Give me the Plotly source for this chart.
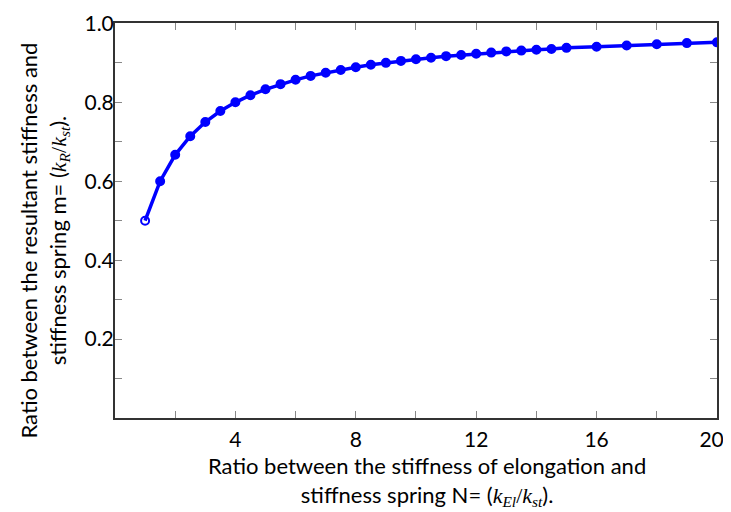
import plotly.graph_objects as go

# stiffness ratio N = kEl/kst
n_ratio = [1, 1.5, 2, 2.5, 3, 3.5, 4, 4.5, 5, 5.5, 6, 6.5, 7, 7.5, 8, 8.5,
           9, 9.5, 10, 10.5, 11, 11.5, 12, 12.5, 13, 13.5, 14, 14.5, 15,
           16, 17, 18, 19, 20]
# resultant ratio m = kR/kst
m_ratio = [0.500, 0.600, 0.667, 0.714, 0.750, 0.778, 0.800, 0.818, 0.833,
           0.846, 0.857, 0.867, 0.875, 0.882, 0.889, 0.895, 0.900, 0.905,
           0.909, 0.913, 0.917, 0.920, 0.923, 0.926, 0.929, 0.931, 0.933,
           0.935, 0.938, 0.941, 0.944, 0.947, 0.950, 0.952]

x_ticks = [2, 4, 6, 8, 10, 12, 14, 16, 18, 20]
x_labels = ['', '4', '', '8', '', '12', '', '16', '', '20\u00a0\u00a0']
y_ticks = [0.1, 0.2, 0.3, 0.4, 0.5, 0.6, 0.7, 0.8, 0.9, 1.0]
y_labels = ['', '0.2', '', '0.4', '', '0.6', '', '0.8', '', '1.0']

font = 'Lato, "Open Sans", sans-serif'
serif = 'style="font-family:Liberation Serif, serif"'

# first point drawn hollow as in the original
symbols = ['circle-open'] + ['circle'] * (len(n_ratio) - 1)

fig = go.Figure()
fig.add_trace(go.Scatter(
    x=n_ratio, y=m_ratio, mode='lines+markers',
    line=dict(color='#0000ff', width=3.5),
    marker=dict(color='#0000ff', size=8, symbol=symbols,
                line=dict(color='#0000ff', width=2)),
    showlegend=False
))

axis_style = dict(
    showline=True, linecolor='#333333', linewidth=2, mirror='ticks',
    ticks='inside', ticklen=7, tickcolor='#888888', tickwidth=1,
    showgrid=False, zeroline=False, ticklabeloverflow='allow',
    tickfont=dict(family=font, size=21, color='black')
)

fig.update_layout(
    width=731, height=512,
    margin=dict(l=107, r=22, t=2, b=102),
    paper_bgcolor='white', plot_bgcolor='white',
    xaxis=dict(range=[0, 20.001], tickmode='array', tickvals=x_ticks,
               ticktext=x_labels, ticklabelstandoff=2, **axis_style),
    yaxis=dict(range=[0, 1.001], tickmode='array', tickvals=y_ticks,
               ticktext=y_labels, ticklabelstandoff=-5, **axis_style),
    annotations=[
        dict(text='Ratio between the stiffness of elongation and<br>'
                  'stiffness spring N= (<span ' + serif + '><i>k<sub>El</sub></i>/'
                  '<i>k<sub>st</sub></i></span>).',
             xref='paper', yref='paper', x=0.518, y=-0.082,
             xanchor='center', yanchor='top', showarrow=False,
             font=dict(family=font, size=22, color='black')),
        dict(text='Ratio between the resultant stiffness and<br>'
                  'stiffness spring m= (<span ' + serif + '><i>k<sub>R</sub></i>/'
                  '<i>k<sub>st</sub></i></span>).',
             xref='paper', yref='paper', x=-0.1175, y=0.45,
             xanchor='center', yanchor='middle', textangle=-90,
             showarrow=False,
             font=dict(family=font, size=22, color='black')),
    ]
)

fig.write_html("out.html")
